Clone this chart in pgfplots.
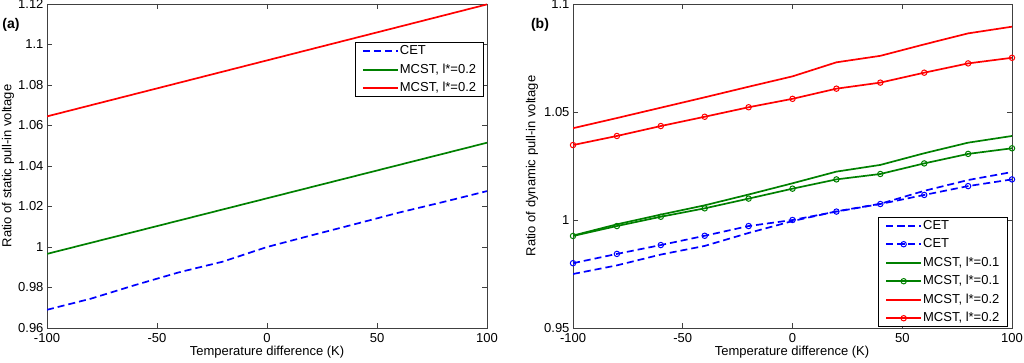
\documentclass[border=0pt]{standalone}
\usepackage{fontspec}
\setmainfont{Liberation Sans}
\usepackage{pgfplots}
\pgfplotsset{compat=1.18}
\definecolor{mblue}{rgb}{0,0,1}
\definecolor{mgreen}{rgb}{0,0.5,0}
\definecolor{mred}{rgb}{1,0,0}
\pgfplotsset{
  lw/.style={line width=1.7pt},
  dsh/.style={dash pattern=on 7pt off 4pt},
  mk/.style={mark=o, mark size=2.7pt, mark options={solid, line width=1pt}},
  mystyle/.style={
    scale only axis, width=440pt, height=324pt,
    xmin=-100, xmax=100, xtick={-100,-50,0,50,100},
    xticklabels={-100,-50,0,50,100},
    tick align=inside, xtick pos=both, ytick pos=both,
    major tick length=5pt,
    axis line style={black!75, line width=0.8pt},
    every tick/.style={black!75, line width=0.8pt},
    tick label style={font=\fontsize{13}{14}\selectfont},
    xticklabel style={yshift=-1.5pt},
    /pgf/number format/assume math mode=true,
    legend cell align=left,
    legend style={line width=0.6pt, font=\fontsize{13}{14}\selectfont,
      inner xsep=6.5pt, inner ysep=2.5pt, row sep=6.5pt,
      nodes={inner xsep=1pt, inner ysep=0pt, text height=9.5pt, text depth=2.5pt}},
    legend image code/.code={\draw[mark repeat=2,mark phase=2,##1,line width=2pt] plot coordinates {(0pt,0pt) (17.5pt,0pt) (35pt,0pt)};},
  }
}
\begin{document}
\begin{tikzpicture}[x=1pt,y=1pt]
\path[use as bounding box] (0,0) rectangle (1024,362);
% Panel (a)
\begin{axis}[mystyle, at={(47pt,34pt)}, anchor=south west,
  ymin=0.96, ymax=1.12, ytick={0.96,0.98,1,1.02,1.04,1.06,1.08,1.1,1.12},
  yticklabels={0.96,0.98,1,1.02,1.04,1.06,1.08,1.1,1.12},
  legend style={at={(0.993,0.8815)}, anchor=north east}]
\addplot[mblue, lw, dsh] coordinates {(-100,0.969) (-80,0.9745) (-60,0.9812) (-40,0.9875) (-20,0.9928) (0,1.000) (20,1.0057) (40,1.0113) (60,1.017) (80,1.0222) (100,1.0276)};
\addlegendentry{CET}
\addplot[mgreen, lw] coordinates {(-100,0.9966) (100,1.0515)};
\addlegendentry{MCST, l*=0.2}
\addplot[mred, lw] coordinates {(-100,1.0645) (100,1.1198)};
\addlegendentry{MCST, l*=0.2}
\end{axis}
% Panel (b)
\begin{axis}[mystyle, at={(573pt,34pt)}, anchor=south west, width=439pt,
  ymin=0.95, ymax=1.1, ytick={0.95,1,1.05,1.1},
  yticklabels={0.95,1,1.05,1.1},
  legend style={at={(0.989,0.003)}, anchor=south east}]
\addplot[mblue, lw, dsh] coordinates {(-100,0.975) (-80,0.979) (-60,0.984) (-40,0.988) (-20,0.994) (0,0.9995) (20,1.004) (40,1.0075) (60,1.0135) (80,1.0185) (100,1.0222)};
\addlegendentry{CET}
\addplot[mblue, lw, dsh, mk] coordinates {(-100,0.980) (-80,0.9843) (-60,0.9884) (-40,0.9927) (-20,0.9972) (0,1.000) (20,1.0039) (40,1.0074) (60,1.0116) (80,1.0157) (100,1.0188)};
\addlegendentry{CET}
\addplot[mgreen, lw] coordinates {(-100,0.9928) (-80,0.998) (-60,1.0025) (-40,1.0068) (-20,1.0118) (0,1.017) (20,1.0224) (40,1.0255) (60,1.0309) (80,1.0358) (100,1.0389)};
\addlegendentry{MCST, l*=0.1}
\addplot[mgreen, lw, mk] coordinates {(-100,0.9926) (-80,0.9972) (-60,1.0015) (-40,1.0054) (-20,1.0099) (0,1.0145) (20,1.0188) (40,1.0213) (60,1.0262) (80,1.0306) (100,1.0332)};
\addlegendentry{MCST, l*=0.1}
\addplot[mred, lw] coordinates {(-100,1.0425) (-80,1.0472) (-60,1.052) (-40,1.0568) (-20,1.0617) (0,1.0665) (20,1.073) (40,1.076) (60,1.0813) (80,1.0864) (100,1.0895)};
\addlegendentry{MCST, l*=0.2}
\addplot[mred, lw, mk] coordinates {(-100,1.0347) (-80,1.0389) (-60,1.0435) (-40,1.0478) (-20,1.0522) (0,1.0561) (20,1.0608) (40,1.0636) (60,1.0682) (80,1.0725) (100,1.0751)};
\addlegendentry{MCST, l*=0.2}
\end{axis}
% labels
\node[font=\fontsize{13}{14}\selectfont] at (267,10) {Temperature difference (K)};
\node[font=\fontsize{13}{14}\selectfont] at (792,10) {Temperature difference (K)};
\node[rotate=90, font=\fontsize{13}{14}\selectfont] at (8,196) {Ratio of static pull-in voltage};
\node[rotate=90, font=\fontsize{13}{14}\selectfont] at (532,196) {Ratio of dynamic pull-in voltage};
\node[font=\fontsize{14}{15}\selectfont\bfseries] at (11,337) {(a)};
\node[font=\fontsize{14}{15}\selectfont\bfseries] at (540,337) {(b)};
\end{tikzpicture}
\end{document}
